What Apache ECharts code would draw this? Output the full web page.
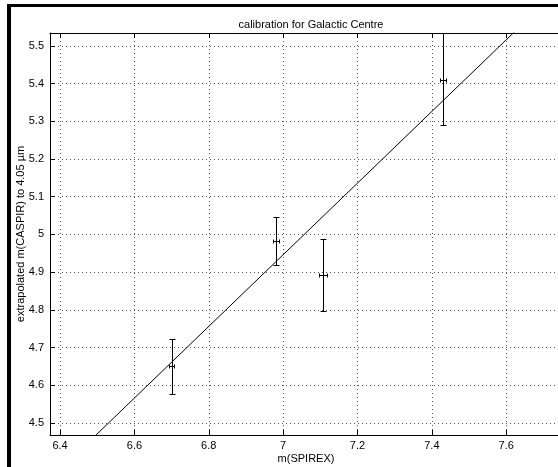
<!DOCTYPE html>
<html><head><meta charset="utf-8">
<script src="https://cdn.jsdelivr.net/npm/echarts@6/dist/echarts.min.js"></script>
<style>html,body{margin:0;padding:0;background:#fff}#c{width:558px;height:467px}</style>
</head><body><div id="c"></div>
<script>
// data
const xValues   = [6.700, 6.980, 7.108, 7.430];
const yValues   = [4.650, 4.982, 4.893, 5.410];
const yErrLow   = [4.578, 4.918, 4.796, 5.289];
const yErrHigh  = [4.722, 5.046, 4.988, 5.533];
const xErr      = [0.006, 0.008, 0.011, 0.008];
const fitX      = [6.4, 7.8];
const fitY      = [4.376, 5.706];
const xLimits   = [6.373, 7.75];
const yLimits   = [4.468, 5.534];

const font = '"Liberation Sans", Arial, Helvetica, sans-serif';
const chart = echarts.init(document.getElementById('c'), null, {renderer: 'canvas'});

const pts = xValues.map((x, i) => [x, yValues[i], yErrLow[i], yErrHigh[i], xErr[i]]);
const fitData = fitX.map((x, i) => [x, fitY[i]]);

function renderErr(params, api) {
  const x = api.value(0), y = api.value(1), lo = api.value(2), hi = api.value(3), xe = api.value(4);
  const pT = api.coord([x, hi]), pB = api.coord([x, lo]), pC = api.coord([x, y]);
  const pL = api.coord([x - xe, y]), pR = api.coord([x + xe, y]);
  const cx = Math.round(pC[0]) + 0.5, cy = Math.round(pC[1]) + 0.5;
  const yt = Math.round(pT[1]) + 0.5, yb = Math.round(pB[1]) + 0.5;
  const xl = Math.round(pL[0]) + 0.5, xr = Math.round(pR[0]) + 0.5;
  const st = {stroke: '#000', lineWidth: 1};
  const cap = 3, hcap = 2;
  const L = (x1, y1, x2, y2) => ({type: 'line', shape: {x1, y1, x2, y2}, style: st});
  return {type: 'group', children: [
    L(cx, yt, cx, yb),
    L(cx - cap, yt, cx + cap, yt),
    L(cx - cap, yb, cx + cap, yb),
    L(xl, cy, xr, cy),
    L(xl, cy - hcap, xl, cy + hcap),
    L(xr, cy - hcap, xr, cy + hcap)
  ]};
}

const gridLine = {show: true, showMinLine: false, showMaxLine: false, lineStyle: {color: '#555', type: [1, 3], width: 1}};
const labelStyle = {color: '#000', fontFamily: font, fontSize: 11};

chart.setOption({
  animation: false,
  backgroundColor: '#fff',
  title: {
    text: 'calibration for Galactic Centre',
    left: 306, top: 14, textAlign: 'center',
    textStyle: {fontFamily: font, fontSize: 11, fontWeight: 'normal', color: '#000'}
  },
  grid: {left: 50, top: 33, right: -4, bottom: 32, containLabel: false, outerBoundsMode: 'none'},
  xAxis: [{
    type: 'value', min: xLimits[0], max: xLimits[1], splitNumber: 7,
    position: 'bottom',
    name: 'm(SPIREX)', nameLocation: 'middle', nameGap: 18, nameMoveOverlap: false,
    nameTextStyle: labelStyle,
    axisLine: {show: true, onZero: false, lineStyle: {color: '#000', width: 1}},
    axisTick: {show: true, inside: true, length: 5, lineStyle: {color: '#000'}},
    axisLabel: Object.assign({margin: 5, showMinLabel: false, showMaxLabel: false}, labelStyle),
    splitLine: gridLine
  }, {
    type: 'value', min: xLimits[0], max: xLimits[1], splitNumber: 7,
    position: 'top',
    axisLine: {show: true, onZero: false, lineStyle: {color: '#000', width: 1}},
    axisTick: {show: true, inside: true, length: 5, lineStyle: {color: '#000'}},
    axisLabel: {show: false},
    splitLine: {show: false}
  }],
  yAxis: [{
    type: 'value', min: yLimits[0], max: yLimits[1], splitNumber: 10,
    position: 'left',
    name: 'extrapolated m(CASPIR) to 4.05 µm', nameLocation: 'middle', nameGap: 24, nameMoveOverlap: false,
    nameTextStyle: labelStyle,
    axisLine: {show: true, onZero: false, lineStyle: {color: '#000', width: 1}},
    axisTick: {show: true, inside: true, length: 5, lineStyle: {color: '#000'}},
    axisLabel: Object.assign({margin: 6, showMinLabel: false, showMaxLabel: false}, labelStyle),
    splitLine: gridLine
  }],
  graphic: [
    {type: 'rect', shape: {x: 7, y: 4, width: 4, height: 463}, style: {fill: '#000'}},
    {type: 'rect', shape: {x: 7, y: 4, width: 551, height: 3}, style: {fill: '#000'}}
  ],
  series: [{
    type: 'line', data: fitData, xAxisIndex: 0, yAxisIndex: 0,
    showSymbol: false, symbol: 'none', clip: true,
    lineStyle: {color: '#000', width: 1}
  }, {
    type: 'custom', data: pts, xAxisIndex: 0, yAxisIndex: 0,
    renderItem: renderErr, clip: true,
    encode: {x: 0, y: 1}
  }]
});
</script></body></html>
